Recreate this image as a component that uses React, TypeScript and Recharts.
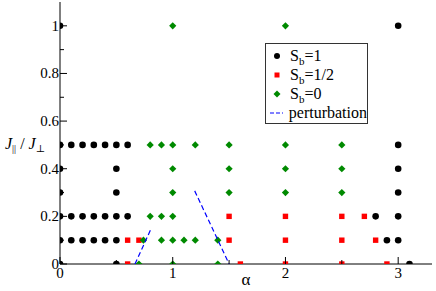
import React from 'react';
import { ScatterChart, Scatter, XAxis, YAxis } from 'recharts';

// S_b = 1 (black circles)
const sb1 = [
  { x: 0, y: 1 }, { x: 3, y: 1 },
  { x: 0, y: 0.5 }, { x: 0.1, y: 0.5 }, { x: 0.2, y: 0.5 }, { x: 0.3, y: 0.5 }, { x: 0.4, y: 0.5 }, { x: 0.5, y: 0.5 }, { x: 0.6, y: 0.5 }, { x: 3, y: 0.5 },
  { x: 0, y: 0.4 }, { x: 0.5, y: 0.4 }, { x: 3, y: 0.4 },
  { x: 0, y: 0.3 }, { x: 0.5, y: 0.3 }, { x: 3, y: 0.3 },
  { x: 0, y: 0.2 }, { x: 0.1, y: 0.2 }, { x: 0.2, y: 0.2 }, { x: 0.3, y: 0.2 }, { x: 0.4, y: 0.2 }, { x: 0.5, y: 0.2 }, { x: 0.6, y: 0.2 }, { x: 2.8, y: 0.2 }, { x: 3, y: 0.2 },
  { x: 0, y: 0.1 }, { x: 0.1, y: 0.1 }, { x: 0.2, y: 0.1 }, { x: 0.3, y: 0.1 }, { x: 0.4, y: 0.1 }, { x: 0.5, y: 0.1 }, { x: 2.9, y: 0.1 }, { x: 3, y: 0.1 },
  { x: 0, y: 0 }, { x: 0.5, y: 0 }, { x: 3.1, y: 0 },
];

// S_b = 1/2 (red squares)
const sbHalf = [
  { x: 1.5, y: 0.2 }, { x: 2, y: 0.2 }, { x: 2.5, y: 0.2 }, { x: 2.7, y: 0.2 },
  { x: 0.6, y: 0.1 }, { x: 0.7, y: 0.1 }, { x: 1.5, y: 0.1 }, { x: 2, y: 0.1 }, { x: 2.5, y: 0.1 }, { x: 2.8, y: 0.1 },
  { x: 0.6, y: 0 }, { x: 1.6, y: 0 }, { x: 2, y: 0 }, { x: 2.5, y: 0 }, { x: 2.9, y: 0 },
];

// S_b = 0 (green diamonds)
const sb0 = [
  { x: 1, y: 1 }, { x: 2, y: 1 },
  { x: 0.8, y: 0.5 }, { x: 0.9, y: 0.5 }, { x: 1, y: 0.5 }, { x: 1.2, y: 0.5 }, { x: 1.5, y: 0.5 }, { x: 2, y: 0.5 }, { x: 2.5, y: 0.5 },
  { x: 1, y: 0.4 }, { x: 1.5, y: 0.4 }, { x: 2, y: 0.4 }, { x: 2.5, y: 0.4 },
  { x: 1, y: 0.3 }, { x: 1.5, y: 0.3 }, { x: 2, y: 0.3 }, { x: 2.5, y: 0.3 },
  { x: 0.8, y: 0.2 }, { x: 0.9, y: 0.2 }, { x: 1, y: 0.2 },
  { x: 0.74, y: 0.1 }, { x: 0.9, y: 0.1 }, { x: 1, y: 0.1 }, { x: 1.1, y: 0.1 }, { x: 1.2, y: 0.1 }, { x: 1.4, y: 0.1 },
  { x: 0.7, y: 0 }, { x: 1, y: 0 }, { x: 1.4, y: 0 },
];

// perturbation boundaries (blue dashed)
const pertLeft = [{ x: 0.665, y: 0 }, { x: 0.804, y: 0.144 }];
const pertRight = [{ x: 1.195, y: 0.307 }, { x: 1.5, y: 0 }];

const xTicks = [0, 0.5, 1, 1.5, 2, 2.5, 3];
const yTicks = [0, 0.1, 0.2, 0.3, 0.4, 0.5, 0.6, 0.7, 0.8, 0.9, 1.0, 1.1];

const FONT = 'Liberation Serif, Times New Roman, DejaVu Serif, serif';
const GREEN = '#008a00';

const isMajorX = (v: number) => Math.abs(v - Math.round(v)) < 1e-6;
const isMajorY = (v: number) => Math.round(v * 10) % 2 === 0;

const BottomTick = (props: any) => {
  const { x, y, payload } = props;
  const major = isMajorX(payload.value);
  return (
    <g>
      <line x1={x} y1={y} x2={x} y2={y - (major ? 7 : 4)} stroke="#000" />
      {major && (
        <text x={x} y={y + 14} textAnchor="middle" fontSize={15} fontFamily={FONT} fill="#000">
          {Math.round(payload.value)}
        </text>
      )}
    </g>
  );
};

const TopTick = (props: any) => {
  const { x, y, payload } = props;
  const major = isMajorX(payload.value);
  return <line x1={x} y1={y} x2={x} y2={y + (major ? 7 : 4)} stroke="#000" />;
};

const LeftTick = (props: any) => {
  const { x, y, payload } = props;
  if (payload.value > 1.05) return <g />;
  const major = isMajorY(payload.value);
  return (
    <g>
      <line x1={x} y1={y} x2={x + (major ? 7 : 4)} y2={y} stroke="#000" />
      {major && (
        <text x={x - 1} y={y + 5} textAnchor="end" fontSize={15} fontFamily={FONT} fill="#000">
          {String(Math.round(payload.value * 10) / 10)}
        </text>
      )}
    </g>
  );
};

const RightTick = (props: any) => {
  const { x, y, payload } = props;
  if (payload.value > 1.05) return <g />;
  const major = isMajorY(payload.value);
  return <line x1={x} y1={y} x2={x - (major ? 7 : 4)} y2={y} stroke="#000" />;
};

const Circle = (props: any) => <circle cx={props.cx} cy={props.cy} r={3.3} fill="#000" />;
const Square = (props: any) => <rect x={props.cx - 2.7} y={props.cy - 2.7} width={5.4} height={5.4} fill="#ff0000" />;
const Diamond = (props: any) => {
  const { cx, cy } = props;
  const d = 3.6;
  return <polygon points={`${cx},${cy - d} ${cx + d},${cy} ${cx},${cy + d} ${cx - d},${cy}`} fill={GREEN} />;
};
const NoDot = () => <g />;

const YLabel = () => (
  <text x={5} y={149} fontFamily={FONT} fontSize={16} fill="#000">
    <tspan fontStyle="italic">J</tspan>
    <tspan dy={3} fontSize={10}>||</tspan>
    <tspan dy={-3}> / </tspan>
    <tspan fontStyle="italic">J</tspan>
    <tspan dy={3} fontSize={10}>⊥</tspan>
  </text>
);

const XLabel = () => (
  <text x={246} y={285} textAnchor="middle" fontFamily={FONT} fontSize={17} fill="#000">
    α
  </text>
);

const legendRow: React.CSSProperties = { display: 'flex', alignItems: 'center', height: 19 };
const legendText: React.CSSProperties = { marginLeft: 6, whiteSpace: 'nowrap' };
const sub: React.CSSProperties = { fontSize: 11, verticalAlign: -4, lineHeight: 0 };

const LegendBox = () => (
  <div
    style={{
      position: 'absolute',
      left: 265,
      top: 43,
      width: 103,
      height: 81,
      border: '1px solid #333',
      background: '#fff',
      fontFamily: FONT,
      fontSize: 16,
      boxSizing: 'border-box',
      padding: '2px 0 0 4px',
      color: '#000',
    }}
  >
    <div style={legendRow}>
      <svg width={14} height={12}><circle cx={7} cy={6} r={3} fill="#000" /></svg>
      <span style={legendText}>S<span style={sub}>b</span>=1</span>
    </div>
    <div style={legendRow}>
      <svg width={14} height={12}><rect x={4.5} y={3.5} width={5} height={5} fill="#ff0000" /></svg>
      <span style={legendText}>S<span style={sub}>b</span>=1/2</span>
    </div>
    <div style={legendRow}>
      <svg width={14} height={12}><polygon points="7,2.5 10.5,6 7,9.5 3.5,6" fill={GREEN} /></svg>
      <span style={legendText}>S<span style={sub}>b</span>=0</span>
    </div>
    <div style={legendRow}>
      <svg width={14} height={12}><line x1={0} y1={6} x2={14} y2={6} stroke="#0000ff" strokeDasharray="4 2" /></svg>
      <span style={legendText}>perturbation</span>
    </div>
  </div>
);

export default function App() {
  return (
    <div style={{ position: 'absolute', left: 0, top: 0, width: 436, height: 291, background: '#fff', fontFamily: FONT }}>
      <ScatterChart width={436} height={291} margin={{ top: 2, right: 4, bottom: 0, left: 0 }} style={{ fontFamily: FONT }}>
        <XAxis
          xAxisId="b"
          type="number"
          dataKey="x"
          domain={[0, 3.3]}
          ticks={xTicks}
          interval={0}
          allowDataOverflow
          height={27}
          tickSize={0}
          tickMargin={0}
          tick={<BottomTick />}
          axisLine={{ stroke: '#000' }}
          label={<XLabel />}
        />
        <XAxis
          xAxisId="t"
          orientation="top"
          type="number"
          dataKey="x"
          domain={[0, 3.3]}
          ticks={xTicks}
          interval={0}
          allowDataOverflow
          height={0}
          tickSize={0}
          tickMargin={0}
          tick={<TopTick />}
          axisLine={{ stroke: '#000' }}
        />
        <YAxis
          yAxisId="l"
          type="number"
          dataKey="y"
          domain={[0, 1.1]}
          ticks={yTicks}
          interval={0}
          allowDataOverflow
          width={60}
          tickSize={0}
          tickMargin={0}
          tick={<LeftTick />}
          axisLine={{ stroke: '#000' }}
          label={<YLabel />}
        />
        <YAxis
          yAxisId="r"
          orientation="right"
          type="number"
          dataKey="y"
          domain={[0, 1.1]}
          ticks={yTicks}
          interval={0}
          allowDataOverflow
          width={0}
          tickSize={0}
          tickMargin={0}
          tick={<RightTick />}
          axisLine={{ stroke: '#000' }}
        />
        <Scatter xAxisId="t" yAxisId="r" data={sb1} shape={NoDot} isAnimationActive={false} />
        <Scatter xAxisId="b" yAxisId="l" name="Sb=1" data={sb1} shape={Circle} isAnimationActive={false} />
        <Scatter xAxisId="b" yAxisId="l" name="Sb=1/2" data={sbHalf} shape={Square} isAnimationActive={false} />
        <Scatter xAxisId="b" yAxisId="l" name="Sb=0" data={sb0} shape={Diamond} isAnimationActive={false} />
        <Scatter
          xAxisId="b"
          yAxisId="l"
          data={pertLeft}
          line={{ stroke: '#0000ff', strokeWidth: 1.2, strokeDasharray: '5 3' }}
          shape={NoDot}
          isAnimationActive={false}
        />
        <Scatter
          xAxisId="b"
          yAxisId="l"
          data={pertRight}
          line={{ stroke: '#0000ff', strokeWidth: 1.2, strokeDasharray: '5 3' }}
          shape={NoDot}
          isAnimationActive={false}
        />
      </ScatterChart>
      <LegendBox />
    </div>
  );
}
